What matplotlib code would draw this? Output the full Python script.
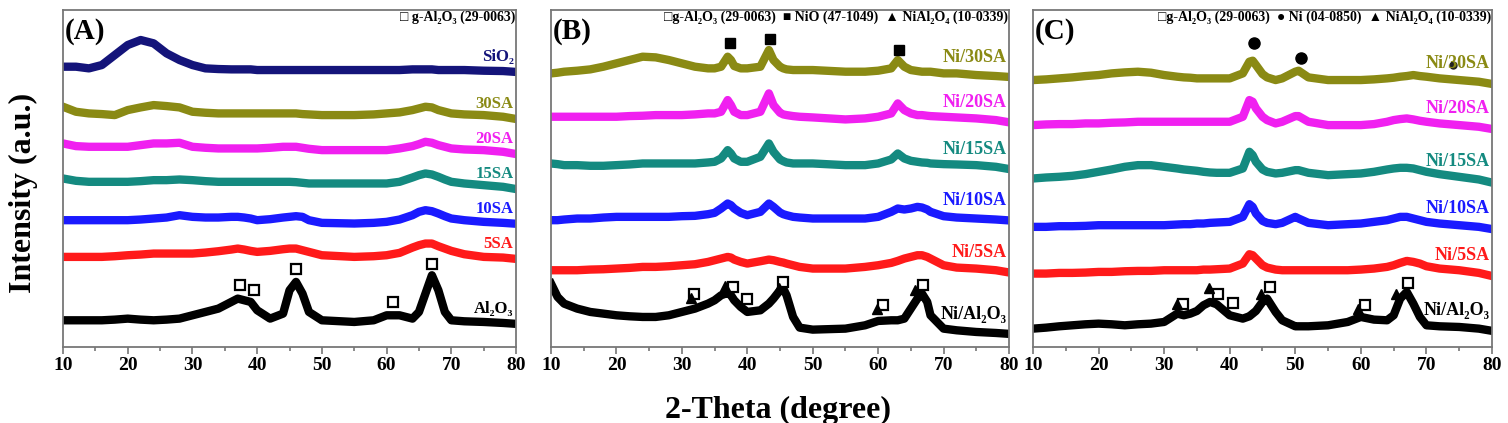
import numpy as np
import matplotlib.pyplot as plt
from matplotlib.ticker import MultipleLocator

plt.rcParams['font.family'] = ['Liberation Serif', 'DejaVu Serif', 'DejaVu Sans']
plt.rcParams['font.weight'] = 'bold'

# ---- panel A : supports ----
theta_a = [10, 12, 14, 16, 18, 20, 22, 24, 26, 28,
           30, 32, 34, 36, 37, 38, 39, 40, 42, 44,
           45, 46, 47, 48, 50, 55, 58, 60, 62, 64,
           65, 66, 67, 68, 69, 70, 72, 75, 78, 79.5]
sio2 = [1.5, 1.5, 1.0, 2.0, 5.0, 8.0, 9.5, 8.5, 5.5, 3.5,
        2.0, 1.0, 0.8, 0.7, 0.7, 0.7, 0.7, 0.5, 0.5, 0.5,
        0.5, 0.5, 0.5, 0.5, 0.5, 0.5, 0.5, 0.5, 0.5, 0.7,
        0.7, 0.7, 0.7, 0.5, 0.5, 0.5, 0.5, 0.3, 0.2, 0.0]
sa30 = [3.5, 2.0, 1.5, 1.3, 1.0, 2.5, 3.3, 4.0, 3.7, 3.3,
        2.0, 1.7, 1.5, 1.5, 1.5, 1.5, 1.5, 1.5, 1.5, 1.5,
        1.5, 1.5, 1.3, 1.2, 1.0, 1.0, 1.2, 1.5, 1.8, 2.5,
        3.0, 3.5, 3.3, 2.5, 2.0, 1.5, 1.2, 1.0, 0.5, 0.0]
sa20 = [3.0, 2.2, 2.0, 2.0, 2.0, 2.0, 2.5, 3.0, 3.0, 3.2,
        2.0, 1.7, 1.5, 1.5, 1.5, 1.5, 1.5, 1.5, 1.7, 2.0,
        2.0, 2.0, 1.7, 1.4, 1.0, 1.0, 1.0, 1.0, 1.5, 2.2,
        2.8, 3.5, 3.2, 2.5, 2.0, 1.5, 1.2, 1.0, 0.5, 0.0]
sa15 = [3.0, 2.3, 2.0, 2.0, 2.0, 2.0, 2.2, 2.5, 2.5, 2.7,
        2.5, 2.2, 2.0, 2.0, 2.0, 2.0, 2.0, 2.0, 2.0, 2.0,
        2.0, 1.9, 1.7, 1.5, 1.5, 1.5, 1.5, 1.5, 2.0, 3.3,
        4.0, 4.5, 4.2, 3.5, 2.7, 2.0, 1.5, 1.0, 0.5, 0.0]
sa10 = [1.0, 1.0, 1.0, 1.0, 1.0, 1.0, 1.2, 1.5, 1.8, 2.5,
        2.0, 1.8, 1.8, 2.0, 2.0, 1.8, 1.5, 1.0, 1.3, 1.8,
        2.0, 2.2, 2.0, 1.0, 0.2, 0.0, 0.2, 0.5, 1.2, 2.5,
        3.5, 4.0, 3.7, 3.0, 2.2, 1.5, 1.0, 0.5, 0.2, 0.0]
sa5 = [0.5, 0.5, 0.5, 0.5, 0.7, 1.0, 1.2, 1.5, 1.5, 1.5,
       1.5, 1.8, 2.2, 2.7, 3.0, 2.7, 2.3, 2.0, 2.3, 2.8,
       3.0, 3.0, 2.5, 2.0, 1.0, 0.5, 0.7, 1.0, 1.7, 3.3,
       4.0, 4.5, 4.5, 3.7, 3.0, 2.3, 1.3, 0.5, 0.3, 0.0]
al2o3 = [1.0, 1.0, 1.0, 1.0, 1.2, 1.5, 1.2, 1.0, 1.2, 1.5,
         2.5, 3.5, 4.5, 6.5, 7.5, 7.0, 6.5, 4.0, 1.5, 3.0,
         10.0, 12.5, 9.0, 3.5, 1.0, 0.5, 1.0, 2.5, 2.5, 1.5,
         3.5, 9.0, 14.5, 10.0, 3.5, 1.0, 0.7, 0.5, 0.2, 0.0]
names_a = ['SiO₂', '30SA', '20SA', '15SA', '10SA', '5SA', 'Al₂O₃']
shift_a = [82.5, 68.5, 58, 47.5, 37, 26.5, 7]

# ---- panel B : calcined NiO catalysts ----
theta_b = [10, 11, 12, 14, 16, 18, 20, 22, 24, 26,
           28, 30, 32, 34, 35, 36, 37, 37.5, 38, 39,
           40, 42, 43.3, 44, 45, 45.5, 46, 47, 48, 50,
           55, 58, 60, 62, 63, 64, 65, 66, 66.7, 67.5,
           68, 70, 72, 75, 78, 79.5]
b_30 = [1.0, 1.2, 1.5, 1.8, 2.2, 3.0, 4.0, 5.0, 6.0, 5.8,
        5.0, 4.0, 3.0, 2.5, 2.5, 3.0, 6.0, 5.0, 3.2, 2.5,
        2.5, 3.0, 8.0, 5.0, 3.0, 2.5, 2.2, 2.0, 2.0, 2.0,
        1.5, 1.5, 1.8, 2.5, 5.0, 3.0, 2.0, 1.7, 1.5, 1.5,
        1.5, 1.0, 1.0, 0.5, 0.2, 0.0]
b_20 = [1.5, 1.5, 1.5, 1.5, 1.5, 1.5, 1.5, 1.7, 1.8, 2.0,
        2.0, 2.0, 2.2, 2.5, 2.5, 3.0, 6.5, 5.0, 3.0, 2.0,
        2.0, 3.0, 8.5, 5.0, 2.7, 2.2, 2.0, 1.7, 1.5, 1.3,
        0.7, 1.0, 1.5, 2.5, 5.5, 3.5, 2.5, 2.0, 2.0, 1.8,
        1.7, 1.5, 1.3, 1.0, 0.5, 0.0]
b_15 = [1.5, 1.3, 1.0, 1.0, 0.8, 0.8, 1.0, 1.2, 1.5, 1.5,
        1.5, 1.5, 1.5, 1.8, 2.0, 3.0, 5.5, 4.5, 3.0, 2.0,
        2.0, 3.5, 7.5, 5.0, 2.7, 2.2, 1.8, 1.5, 1.5, 1.5,
        1.0, 1.0, 1.5, 2.7, 4.5, 3.0, 2.3, 2.0, 1.8, 1.7,
        1.5, 1.3, 1.2, 1.0, 0.5, 0.0]
b_10 = [0.0, 0.0, 0.2, 0.5, 0.5, 0.8, 1.0, 1.0, 1.0, 1.0,
        1.0, 1.2, 1.3, 1.8, 2.2, 3.5, 5.0, 4.5, 3.5, 2.2,
        1.5, 2.5, 5.0, 4.0, 2.3, 1.8, 1.5, 1.0, 0.8, 0.5,
        0.5, 0.5, 1.0, 2.5, 3.5, 3.2, 3.5, 4.0, 3.8, 3.2,
        2.5, 1.2, 0.8, 0.5, 0.2, 0.0]
b_5 = [0.5, 0.5, 0.5, 0.5, 0.7, 0.8, 1.0, 1.2, 1.5, 1.5,
       1.7, 2.0, 2.3, 3.0, 3.5, 4.0, 4.5, 4.3, 3.7, 3.0,
       2.5, 3.2, 3.7, 3.5, 3.0, 2.8, 2.5, 2.0, 1.5, 1.0,
       1.0, 1.5, 2.0, 2.7, 3.3, 4.0, 4.5, 5.0, 5.0, 4.5,
       4.0, 2.0, 1.3, 1.0, 0.5, 0.0]
b_al = [15.0, 11.0, 9.0, 7.5, 6.5, 6.0, 5.5, 5.2, 5.0, 5.0,
        5.5, 6.5, 7.5, 9.0, 10.0, 11.5, 12.2, 11.5, 10.0, 8.0,
        6.5, 7.0, 9.0, 10.5, 13.0, 13.5, 11.5, 5.0, 1.8, 1.2,
        1.5, 2.5, 3.8, 4.0, 4.0, 4.5, 7.5, 10.5, 12.0, 9.5,
        5.5, 1.5, 1.0, 0.5, 0.2, 0.0]
names_bc = ['Ni/30SA', 'Ni/20SA', 'Ni/15SA', 'Ni/10SA', 'Ni/5SA', 'Ni/Al₂O₃']
shift_b = [81, 67.5, 53.5, 38, 22.5, 4]

# ---- panel C : reduced Ni catalysts ----
theta_c = [10, 12, 14, 16, 18, 20, 22, 24, 26, 28,
           30, 32, 33, 34, 35, 36, 37, 38, 40, 42,
           43, 43.5, 44, 45, 45.7, 47, 48, 50, 50.5, 52,
           55, 58, 60, 62, 64, 65, 66, 67, 68, 69,
           70, 72, 75, 78, 79.5]
c_30 = [1.0, 1.2, 1.5, 1.8, 2.2, 2.5, 3.0, 3.3, 3.5, 3.2,
        2.5, 2.0, 1.8, 1.7, 1.5, 1.5, 1.5, 1.5, 1.5, 3.0,
        6.5, 6.8, 5.5, 2.8, 1.8, 1.0, 1.5, 3.5, 3.8, 1.8,
        1.0, 1.0, 1.0, 1.2, 1.5, 1.7, 2.0, 2.2, 2.5, 2.2,
        2.0, 1.5, 1.0, 0.5, 0.0]
c_20 = [1.0, 1.2, 1.3, 1.3, 1.5, 1.5, 1.7, 1.8, 2.0, 2.0,
        2.0, 2.0, 2.0, 2.0, 2.0, 2.0, 2.0, 2.0, 2.0, 3.5,
        8.5, 8.0, 6.0, 3.5, 2.5, 1.5, 2.0, 3.7, 3.7, 2.0,
        1.0, 1.0, 1.0, 1.3, 2.0, 2.5, 2.8, 3.0, 2.7, 2.3,
        2.0, 1.5, 1.0, 0.5, 0.0]
c_15 = [1.0, 1.3, 1.5, 1.8, 2.3, 3.0, 3.7, 4.5, 5.0, 5.0,
        4.5, 4.0, 3.7, 3.5, 3.3, 3.0, 2.8, 2.7, 2.7, 4.0,
        9.0, 8.0, 6.0, 3.7, 3.0, 2.5, 2.7, 3.5, 3.5, 2.7,
        2.0, 2.3, 2.5, 3.0, 3.7, 4.0, 4.2, 4.2, 4.0, 3.5,
        3.0, 2.3, 1.5, 0.7, 0.0]
c_10 = [0.5, 0.5, 0.7, 0.7, 0.8, 1.0, 1.0, 1.0, 1.0, 1.0,
        1.0, 1.2, 1.3, 1.3, 1.5, 1.5, 1.7, 1.8, 2.0, 3.5,
        7.3, 6.5, 4.5, 2.3, 1.7, 1.3, 1.7, 3.5, 3.0, 1.7,
        1.0, 1.3, 1.5, 2.0, 2.5, 3.0, 3.5, 3.5, 3.0, 2.5,
        2.0, 1.5, 1.0, 0.5, 0.0]
c_5 = [0.5, 0.5, 0.7, 0.7, 0.8, 1.0, 1.0, 1.2, 1.3, 1.3,
       1.5, 1.5, 1.5, 1.5, 1.5, 1.7, 1.7, 1.8, 2.0, 3.5,
       6.3, 6.0, 5.0, 3.0, 2.3, 1.7, 1.5, 1.5, 1.5, 1.5,
       1.5, 1.5, 1.7, 2.0, 2.5, 3.0, 3.7, 4.3, 4.0, 3.5,
       2.7, 2.0, 1.5, 0.7, 0.0]
c_al = [0.5, 0.8, 1.2, 1.5, 1.8, 2.0, 1.8, 1.5, 1.8, 2.0,
        2.5, 5.0, 4.5, 5.0, 5.8, 7.5, 8.5, 7.8, 4.5, 3.5,
        4.2, 5.0, 5.8, 8.5, 9.5, 5.5, 3.0, 1.2, 1.2, 1.2,
        1.5, 2.5, 4.0, 3.2, 3.0, 4.5, 9.5, 11.5, 8.0, 4.0,
        1.5, 1.2, 1.0, 0.5, 0.0]
shift_c = [79, 65.5, 49.5, 35.5, 21.5, 5]

# ---- phase markers (2theta, height) ----
a_sq_x = [37.4, 39.5, 46.0, 61.0, 67.0]
a_sq_y = [18.5, 17.0, 23.5, 13.5, 25.0]
b_nio_x = [37.3, 43.5, 63.2]
b_nio_y = [91.2, 92.2, 89.0]
b_sq_x = [31.9, 37.75, 39.9, 45.5, 60.8, 66.8]
b_sq_y = [16.0, 18.0, 14.5, 19.5, 12.5, 18.7]
b_tri_x = [31.4, 36.6, 44.9, 59.8, 65.6]
b_tri_y = [14.7, 18.2, 17.8, 11.3, 17.0]
c_ni_x = [43.7, 50.8]
c_ni_y = [91.0, 86.5]
c_ni_small_x = [74.1]
c_ni_small_y = [84.5]
c_sq_x = [32.9, 38.2, 40.5, 46.2, 60.6, 67.2]
c_sq_y = [13.0, 16.0, 13.3, 18.0, 12.5, 19.2]
c_tri_x = [31.9, 36.8, 44.7, 59.6, 65.4]
c_tri_y = [13.0, 17.7, 16.0, 11.5, 16.0]

colors_a = ['#14147a', '#8a8a14', '#f020f0', '#148a80', '#1a1aff', '#ff1a1a', '#000000']
colors_bc = colors_a[1:]

fig = plt.figure(figsize=(15.08, 4.23), dpi=100)
ax_a = fig.add_axes([0.0418, 0.1797, 0.3004, 0.7967])
ax_b = fig.add_axes([0.3654, 0.1797, 0.3037, 0.7967])
ax_c = fig.add_axes([0.6850, 0.1797, 0.3044, 0.7967])


def dibujar(ax, x, curvas, nombres, desplaz, colores, lift, tam, letra, leyenda):
    for y, nom, d, col in zip(curvas, nombres, desplaz, colores):
        ax.plot(x, np.array(y) + d, color=col, lw=6, solid_joinstyle='round')
        ax.text(79.6, d + lift, nom, color=col, fontsize=tam, ha='right', va='center')
    ax.set_xlim(10, 80)
    ax.set_ylim(0, 101)
    ax.xaxis.set_major_locator(MultipleLocator(10))
    ax.xaxis.set_minor_locator(MultipleLocator(5))
    ax.tick_params(axis='x', which='major', direction='out', length=5, width=1.2,
                   color='#777777', labelsize=14, pad=2)
    ax.tick_params(axis='x', which='minor', direction='out', length=3, width=1.2, color='#777777')
    ax.set_yticks([])
    for s in ax.spines.values():
        s.set_color('#777777')
        s.set_linewidth(1.3)
    ax.text(0.004, 0.935, letra, transform=ax.transAxes, fontsize=21, ha='left', va='center')
    ax.text(0.998, 0.979, leyenda, transform=ax.transAxes, fontsize=10, ha='right', va='center')


dibujar(ax_a, theta_a, [sio2, sa30, sa20, sa15, sa10, sa5, al2o3], names_a, shift_a,
        colors_a, 4.3, 12, '(A)', '□ g-Al₂O₃ (29-0063)')
dibujar(ax_b, theta_b, [b_30, b_20, b_15, b_10, b_5, b_al], names_bc, shift_b,
        colors_bc, 5.8, 13, '(B)', '□g-Al₂O₃ (29-0063)  ■ NiO (47-1049)  ▲ NiAl₂O₄ (10-0339)')
dibujar(ax_c, theta_c, [c_30, c_20, c_15, c_10, c_5, c_al], names_bc, shift_c,
        colors_bc, 6.0, 13, '(C)', '□g-Al₂O₃ (29-0063)  ● Ni (04-0850)  ▲ NiAl₂O₄ (10-0339)')

sq = dict(marker='s', ms=7, mfc='white', mec='black', mew=1.6, ls='none')
ax_a.plot(a_sq_x, a_sq_y, **sq)
ax_b.plot(b_sq_x, b_sq_y, **sq)
ax_c.plot(c_sq_x, c_sq_y, **sq)
ax_b.plot(b_tri_x, b_tri_y, marker='^', ms=7, color='black', ls='none')
ax_c.plot(c_tri_x, c_tri_y, marker='^', ms=7, color='black', ls='none')
ax_b.plot(b_nio_x, b_nio_y, marker='s', ms=6.5, color='black', ls='none')
ax_c.plot(c_ni_x, c_ni_y, marker='o', ms=8, color='black', ls='none')
ax_c.plot(c_ni_small_x, c_ni_small_y, marker='o', ms=5, color='#222222', ls='none')

fig.text(0.0155, 0.545, 'Intensity (a.u.)', rotation=90, fontsize=23, ha='center', va='center')
fig.text(0.516, 0.03, '2-Theta (degree)', fontsize=23, ha='center', va='center')

fig.savefig('out.png', dpi=100)
